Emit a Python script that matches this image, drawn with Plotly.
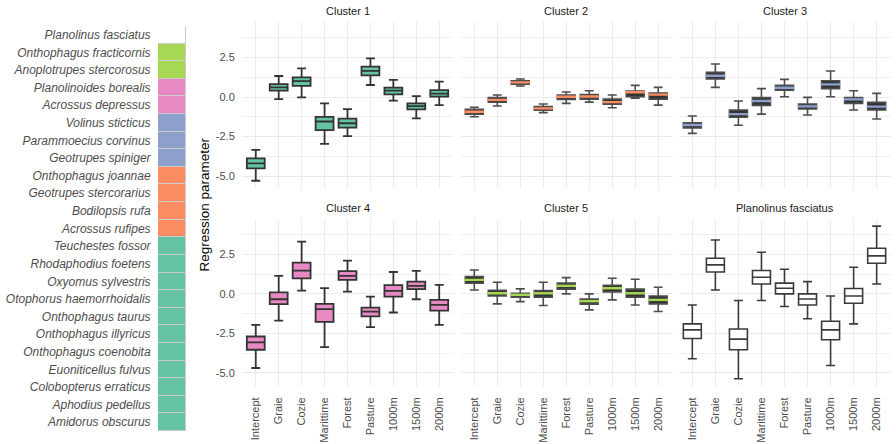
import plotly.graph_objects as go

# ---------------- data ----------------
params = ["Intercept", "Graie", "Cozie", "Marittime", "Forest", "Pasture", "1000m", "1500m", "2000m"]
panels = ["Cluster 1", "Cluster 2", "Cluster 3", "Cluster 4", "Cluster 5", "Planolinus fasciatus"]

c1_lo = [-5.30, -0.13, -0.02, -2.97, -2.47, 0.76, -0.23, -1.35, -0.51]
c1_q1 = [-4.51, 0.40, 0.70, -2.09, -1.94, 1.37, 0.17, -0.78, 0.02]
c1_md = [-4.20, 0.61, 1.01, -1.55, -1.66, 1.66, 0.40, -0.57, 0.22]
c1_q3 = [-3.88, 0.82, 1.25, -1.25, -1.37, 1.92, 0.59, -0.40, 0.44]
c1_hi = [-3.35, 1.33, 1.82, -0.40, -0.76, 2.45, 1.08, 0.06, 0.97]

c2_lo = [-1.25, -0.57, 0.70, -0.99, -0.40, -0.32, -0.68, -0.08, -0.51]
c2_q1 = [-1.08, -0.32, 0.82, -0.84, -0.15, -0.13, -0.46, 0.02, -0.13]
c2_md = [-0.93, -0.18, 0.93, -0.72, 0.02, 0.03, -0.32, 0.30, 0.15]
c2_q3 = [-0.78, -0.04, 1.03, -0.61, 0.13, 0.15, -0.13, 0.38, 0.25]
c2_hi = [-0.65, 0.13, 1.14, -0.44, 0.32, 0.40, 0.13, 0.74, 0.61]

c3_lo = [-2.30, 0.61, -1.79, -1.08, 0.02, -1.14, 0.02, -0.82, -1.39]
c3_q1 = [-1.96, 1.14, -1.28, -0.53, 0.44, -0.76, 0.53, -0.40, -0.82]
c3_md = [-1.77, 1.35, -1.08, -0.25, 0.59, -0.59, 0.80, -0.15, -0.61]
c3_q3 = [-1.63, 1.56, -0.82, -0.04, 0.74, -0.44, 1.03, -0.04, -0.34]
c3_hi = [-1.20, 2.09, -0.25, 0.53, 1.12, -0.02, 1.65, 0.40, 0.23]

c4_lo = [-4.70, -1.69, 0.21, -3.37, 0.15, -2.11, -1.18, -0.34, -1.96]
c4_q1 = [-3.54, -0.65, 0.99, -1.77, 0.89, -1.43, -0.17, 0.30, -1.06]
c4_md = [-3.08, -0.34, 1.48, -0.97, 1.14, -1.12, 0.19, 0.51, -0.70]
c4_q3 = [-2.70, 0.10, 1.98, -0.63, 1.44, -0.87, 0.55, 0.78, -0.38]
c4_hi = [-1.96, 1.14, 3.31, 0.36, 2.11, -0.17, 1.39, 1.46, 0.57]

c5_lo = [0.25, -0.63, -0.49, -0.74, 0.00, -1.01, -0.38, -0.70, -1.12]
c5_q1 = [0.68, -0.13, -0.21, -0.21, 0.30, -0.65, 0.13, -0.21, -0.63]
c5_md = [0.89, 0.04, -0.06, 0.04, 0.51, -0.46, 0.36, 0.04, -0.38]
c5_q3 = [1.10, 0.23, 0.04, 0.21, 0.68, -0.32, 0.55, 0.30, -0.13]
c5_hi = [1.52, 0.74, 0.32, 0.74, 1.03, 0.00, 0.99, 0.93, 0.42]

pf_lo = [-4.11, 0.25, -5.38, -0.42, -0.80, -1.58, -4.54, -1.90, 0.63]
pf_q1 = [-2.83, 1.39, -3.54, 0.63, 0.00, -0.70, -2.91, -0.59, 1.94]
pf_md = [-2.28, 1.84, -2.87, 1.06, 0.36, -0.32, -2.28, -0.13, 2.41]
pf_q3 = [-1.90, 2.26, -2.23, 1.48, 0.68, 0.00, -1.73, 0.34, 2.89]
pf_hi = [-0.70, 3.42, -0.42, 2.64, 1.56, 0.78, -0.13, 1.69, 4.30]

species = ["Planolinus fasciatus", "Onthophagus fracticornis", "Anoplotrupes stercorosus",
           "Planolinoides borealis", "Acrossus depressus", "Volinus sticticus",
           "Parammoecius corvinus", "Geotrupes spiniger", "Onthophagus joannae",
           "Geotrupes stercorarius", "Bodilopsis rufa", "Acrossus rufipes",
           "Teuchestes fossor", "Rhodaphodius foetens", "Oxyomus sylvestris",
           "Otophorus haemorrhoidalis", "Onthophagus taurus", "Onthophagus illyricus",
           "Onthophagus coenobita", "Euoniticellus fulvus", "Colobopterus erraticus",
           "Aphodius pedellus", "Amidorus obscurus"]
species_group = ["Planolinus fasciatus", "Cluster 5", "Cluster 5", "Cluster 4", "Cluster 4",
                 "Cluster 3", "Cluster 3", "Cluster 3", "Cluster 2", "Cluster 2", "Cluster 2",
                 "Cluster 2"] + ["Cluster 1"] * 11

y_ticks = [-5.0, -2.5, 0.0, 2.5]
y_minor = [-3.75, -1.25, 1.25, 3.75]

# ---------------- styling ----------------
group_color = {"Cluster 1": "#66C2A5", "Cluster 2": "#FC8D62", "Cluster 3": "#8DA0CB",
               "Cluster 4": "#E78AC3", "Cluster 5": "#A6D854", "Planolinus fasciatus": "#FFFFFF"}
dark_boxes = {"Cluster 2", "Cluster 3", "Cluster 5"}
FONT = "Liberation Sans, Arial, sans-serif"
W, H = 896, 444

stats = [
    (c1_lo, c1_q1, c1_md, c1_q3, c1_hi),
    (c2_lo, c2_q1, c2_md, c2_q3, c2_hi),
    (c3_lo, c3_q1, c3_md, c3_q3, c3_hi),
    (c4_lo, c4_q1, c4_md, c4_q3, c4_hi),
    (c5_lo, c5_q1, c5_md, c5_q3, c5_hi),
    (pf_lo, pf_q1, pf_md, pf_q3, pf_hi),
]

col_px = [(242, 453), (460.5, 672), (678.5, 890.5)]
row_px = [(22.3, 189.3), (219.3, 386.0)]
y_range = [-5.84, 4.73]

fig = go.Figure()
layout = {}

for i, name in enumerate(panels):
    r, c = divmod(i, 3)
    ax = i + 1
    xn = "x" if ax == 1 else f"x{ax}"
    yn = "y" if ax == 1 else f"y{ax}"
    lo, q1, md, q3, hi = stats[i]
    col = group_color[name]
    if name in dark_boxes:
        fill, lcol, lw = "#333333", "#4d4d4d", 1.6
    elif name == "Planolinus fasciatus":
        fill, lcol, lw = "#FFFFFF", "#3a3a3a", 1.6
    else:
        fill, lcol, lw = col, "#333333", 1.8
    fig.add_trace(go.Box(
        x=params, q1=q1, median=md, q3=q3, lowerfence=lo, upperfence=hi,
        fillcolor=fill, line=dict(color=lcol, width=lw), width=0.78,
        boxpoints=False, showlegend=False, xaxis=xn, yaxis=yn, hoverinfo="skip"))
    if name in dark_boxes:
        fig.add_trace(go.Scatter(
            x=params, y=md, mode="markers", showlegend=False, hoverinfo="skip",
            marker=dict(symbol="line-ew", size=14, color=col,
                        line=dict(color=col, width=2.4)),
            xaxis=xn, yaxis=yn))
    # dashed zero reference line across panel
    fig.add_trace(go.Scatter(
        x=[-0.6, len(params) - 0.4], y=[0, 0], mode="lines", showlegend=False,
        hoverinfo="skip", line=dict(color="black", width=1.5, dash="6px,4px"),
        xaxis=xn, yaxis=yn))

    x0, x1 = col_px[c]
    y0, y1 = row_px[r]
    key = "" if ax == 1 else str(ax)
    layout["xaxis" + key] = dict(
        domain=[x0 / W, x1 / W], anchor=yn, type="category",
        categoryorder="array", categoryarray=params,
        range=[-0.6, len(params) - 0.4],
        showgrid=True, gridcolor="#ebebeb", gridwidth=1.2, zeroline=False,
        showline=False, showticklabels=(r == 1), tickangle=-90,
        ticks="outside" if r == 1 else "", ticklen=6, tickcolor="rgba(0,0,0,0)",
        tickfont=dict(family=FONT, size=11, color="#4d4d4d"), fixedrange=True)
    layout["yaxis" + key] = dict(
        domain=[1 - y1 / H, 1 - y0 / H], anchor=xn, range=y_range,
        tickvals=y_ticks, ticktext=[f"{v:.1f}" for v in y_ticks],
        showgrid=True, gridcolor="#ebebeb", gridwidth=1.2, zeroline=False,
        minor=dict(tickvals=y_minor, showgrid=True, gridcolor="#f0f0f0", gridwidth=0.6),
        showticklabels=(c == 0), ticks="outside" if c == 0 else "", ticklen=4,
        tickcolor="rgba(0,0,0,0)",
        tickfont=dict(family=FONT, size=11, color="#4d4d4d"), fixedrange=True)
    # strip title
    fig.add_annotation(
        x=(x0 + x1) / 2 / W, y=1 - (y0 - 11) / H, xref="paper", yref="paper",
        text=name, showarrow=False, xanchor="center", yanchor="middle",
        font=dict(family=FONT, size=11, color="#1a1a1a"))

# species tile column
fig.add_trace(go.Bar(
    y=species, x=[1] * len(species), orientation="h",
    marker=dict(color=[group_color[g] for g in species_group],
                line=dict(color="#cccccc", width=1)),
    width=1, showlegend=False, hoverinfo="skip", xaxis="x7", yaxis="y7"))
layout["xaxis7"] = dict(domain=[158 / W, 186 / W], anchor="y7", range=[0, 1],
                        visible=False, fixedrange=True)
layout["yaxis7"] = dict(domain=[1 - 431 / H, 1 - 26 / H], anchor="x7", type="category",
                        categoryorder="array", categoryarray=species[::-1],
                        range=[-0.5, len(species) - 0.5],
                        showgrid=False, zeroline=False, showline=False,
                        ticks="outside", ticklen=4, tickcolor="rgba(0,0,0,0)",
                        tickfont=dict(family=FONT, size=12, color="#4d4d4d", style="italic"),
                        fixedrange=True)

# y-axis title
fig.add_annotation(x=204 / W, y=1 - 204.5 / H, xref="paper", yref="paper",
                   text="Regression parameter", textangle=-90, showarrow=False,
                   xanchor="center", yanchor="middle",
                   font=dict(family=FONT, size=13.5, color="#000000"))

fig.update_layout(
    width=W, height=H, margin=dict(l=0, r=0, t=0, b=0),
    paper_bgcolor="white", plot_bgcolor="white", bargap=0,
    font=dict(family=FONT), **layout)

fig.write_html("out.html")
